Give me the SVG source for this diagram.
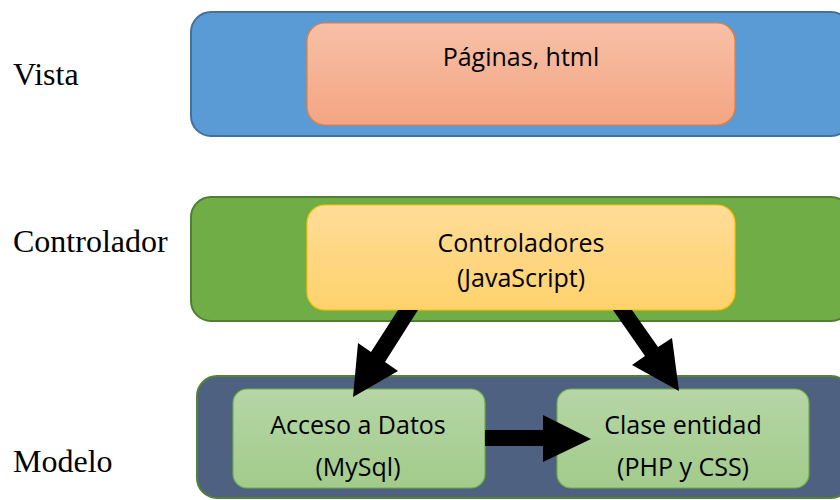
<svg xmlns="http://www.w3.org/2000/svg" width="840" height="500" viewBox="0 0 840 500">
<defs>
<linearGradient id="gSal" x1="0" y1="0" x2="0" y2="1"><stop offset="0" stop-color="#F7C0A7"/><stop offset="1" stop-color="#F4A582"/></linearGradient>
<linearGradient id="gYel" x1="0" y1="0" x2="0" y2="1"><stop offset="0" stop-color="#FFDC98"/><stop offset="1" stop-color="#FFD26C"/></linearGradient>
<linearGradient id="gGrn" x1="0" y1="0" x2="0" y2="1"><stop offset="0" stop-color="#B6D6A6"/><stop offset="1" stop-color="#A2CB8B"/></linearGradient>
</defs>
<style>
.lbl{font-family:"Liberation Serif","Times New Roman",serif;font-size:32px;fill:#000}
.t{font-family:"Open Sans","Noto Sans",sans-serif;font-size:25px;fill:#000;text-anchor:middle}
.arr{fill:#000}
</style>
<g id="labels">
<text class="lbl" x="13" y="85">Vista</text>
<text class="lbl" x="13" y="252">Controlador</text>
<text class="lbl" x="13" y="472">Modelo</text>
</g>
<g id="vista">
<rect x="191" y="12" width="660" height="124" rx="20" fill="#5B9BD5" stroke="#41719C" stroke-width="2"/>
</g>
<g id="controlador">
<rect x="191" y="197" width="660" height="124" rx="20" fill="#70AD47" stroke="#507E32" stroke-width="2"/>
</g>
<g id="modelo">
<rect x="197" y="376" width="654" height="122" rx="20" fill="#4F6180" stroke="#548235" stroke-width="2"/>
</g>
<g id="paginas">
<rect x="307" y="23" width="428" height="102" rx="18" fill="url(#gSal)" stroke="#ED7D31" stroke-width="1.2"/>
<text class="t" x="521" y="66">Páginas, html</text>
</g>
<g id="controladores">
<rect x="307" y="205" width="428" height="105" rx="18" fill="url(#gYel)" stroke="#FFC000" stroke-width="1.2"/>
<text class="t" x="521" y="252">Controladores</text>
<text class="t" x="521" y="287">(JavaScript)</text>
</g>
<g id="acceso">
<rect x="233" y="389" width="252" height="99" rx="14" fill="url(#gGrn)" stroke="#70AD47" stroke-width="1.2"/>
<text class="t" x="358" y="434">Acceso a Datos</text>
<text class="t" x="358" y="476">(MySql)</text>
</g>
<g id="clase">
<rect x="557" y="389" width="252" height="99" rx="14" fill="url(#gGrn)" stroke="#70AD47" stroke-width="1.2"/>
<text class="t" x="683" y="434">Clase entidad</text>
<text class="t" x="683" y="476">(PHP y CSS)</text>
</g>
<g id="connectors">
<polygon class="arr" points="398,310 418,310 385,362 398,371 353,397 358,343 371,352"/>
<polygon class="arr" points="613,310 632,310 658,347 672,338 679,391 632,365 645,356"/>
<polygon class="arr" points="485,430 543,430 543,415 591,439 543,462 543,446 485,446"/>
</g>
</svg>
